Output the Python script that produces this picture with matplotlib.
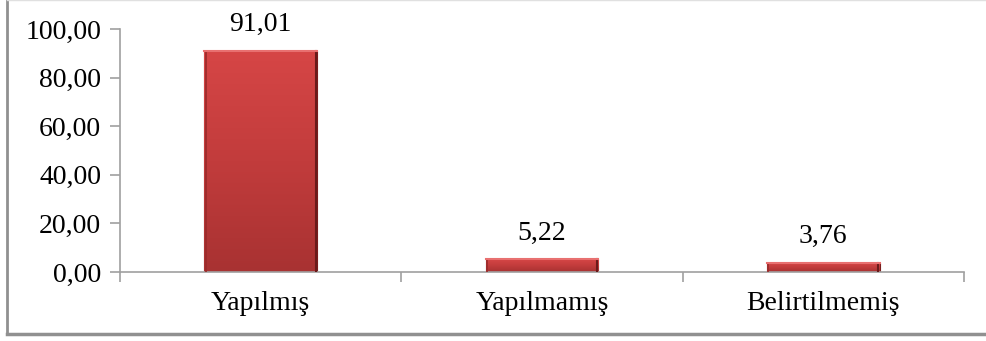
import numpy as np
import matplotlib
matplotlib.use("Agg")
import matplotlib.pyplot as plt
from matplotlib.lines import Line2D

categories = ["Yapılmış", "Yapılmamış", "Belirtilmemiş"]
values = [91.01, 5.22, 3.76]
value_labels = ["91,01", "5,22", "3,76"]
yticks = [0, 20, 40, 60, 80, 100]
ytick_labels = ["0,00", "20,00", "40,00", "60,00", "80,00", "100,00"]

plt.rcParams["font.family"] = ["Liberation Serif", "DejaVu Serif"]

fig = plt.figure(figsize=(9.87, 3.41), dpi=100)
ax = fig.add_axes([120 / 987, 1 - 272 / 341, 844 / 987, 243 / 341])

x = np.arange(len(categories))
width = 0.4
bars = ax.bar(x, values, width=width, color="#c63c3c", edgecolor="#7a1e1e",
              linewidth=0.8, zorder=2)

# vertical gradient on each bar
grad = np.linspace(0, 1, 256).reshape(-1, 1)
cmap = matplotlib.colors.LinearSegmentedColormap.from_list(
    "redgrad", ["#a83232", "#c23c3c", "#d64646"])
for b in bars:
    x0, y0 = b.get_x(), b.get_y()
    w, h = b.get_width(), b.get_height()
    im = ax.imshow(grad, extent=[x0, x0 + w, y0, y0 + h], origin="lower",
                   cmap=cmap, aspect="auto", zorder=2.5)
    im.set_clip_path(b)
    # bevel edges
    ax.plot([x0 + w * 0.01, x0 + w * 0.01], [y0, y0 + h], color="#9a2a2a",
            lw=1.2, zorder=3)
    ax.plot([x0 + w * 0.99, x0 + w * 0.99], [y0, y0 + h], color="#6a1a1a",
            lw=1.5, zorder=3)
    ax.plot([x0, x0 + w], [y0 + h, y0 + h], color="#e87070", lw=1.5, zorder=3)

for xi, v, lab in zip(x, values, value_labels):
    ax.annotate(lab, (xi, v), xytext=(0, 10), textcoords="offset points",
                ha="center", va="bottom", fontsize=20)

ax.set_xlim(-0.5, len(categories) - 0.5)
ax.set_ylim(0, 100)
ax.set_yticks(yticks)
ax.set_yticklabels(ytick_labels, fontsize=20)
ax.set_xticks(x)
ax.set_xticklabels(categories, fontsize=20)
ax.set_xticks(np.arange(len(categories) + 1) - 0.5, minor=True)
ax.tick_params(axis="x", which="major", length=0, pad=14)
ax.tick_params(axis="x", which="minor", length=7, color="#a0a0a0", width=1.2,
               direction="out")
ax.tick_params(axis="y", length=7, color="#a0a0a0", width=1.2, pad=6.5)

for s in ["top", "right"]:
    ax.spines[s].set_visible(False)
for s in ["left", "bottom"]:
    ax.spines[s].set_color("#a0a0a0")
    ax.spines[s].set_linewidth(1.2)

# outer chart border
fig.add_artist(Line2D([7.5 / 987, 7.5 / 987], [1, 1 - 334 / 341],
                      transform=fig.transFigure, color="#909090", lw=2))
fig.add_artist(Line2D([7.5 / 987, 1], [1 - 334 / 341, 1 - 334 / 341],
                      transform=fig.transFigure, color="#909090", lw=2.5))
fig.add_artist(Line2D([7.5 / 987, 1], [0.999, 0.999],
                      transform=fig.transFigure, color="#e0e0e0", lw=1))

fig.savefig("out.png", dpi=100)
